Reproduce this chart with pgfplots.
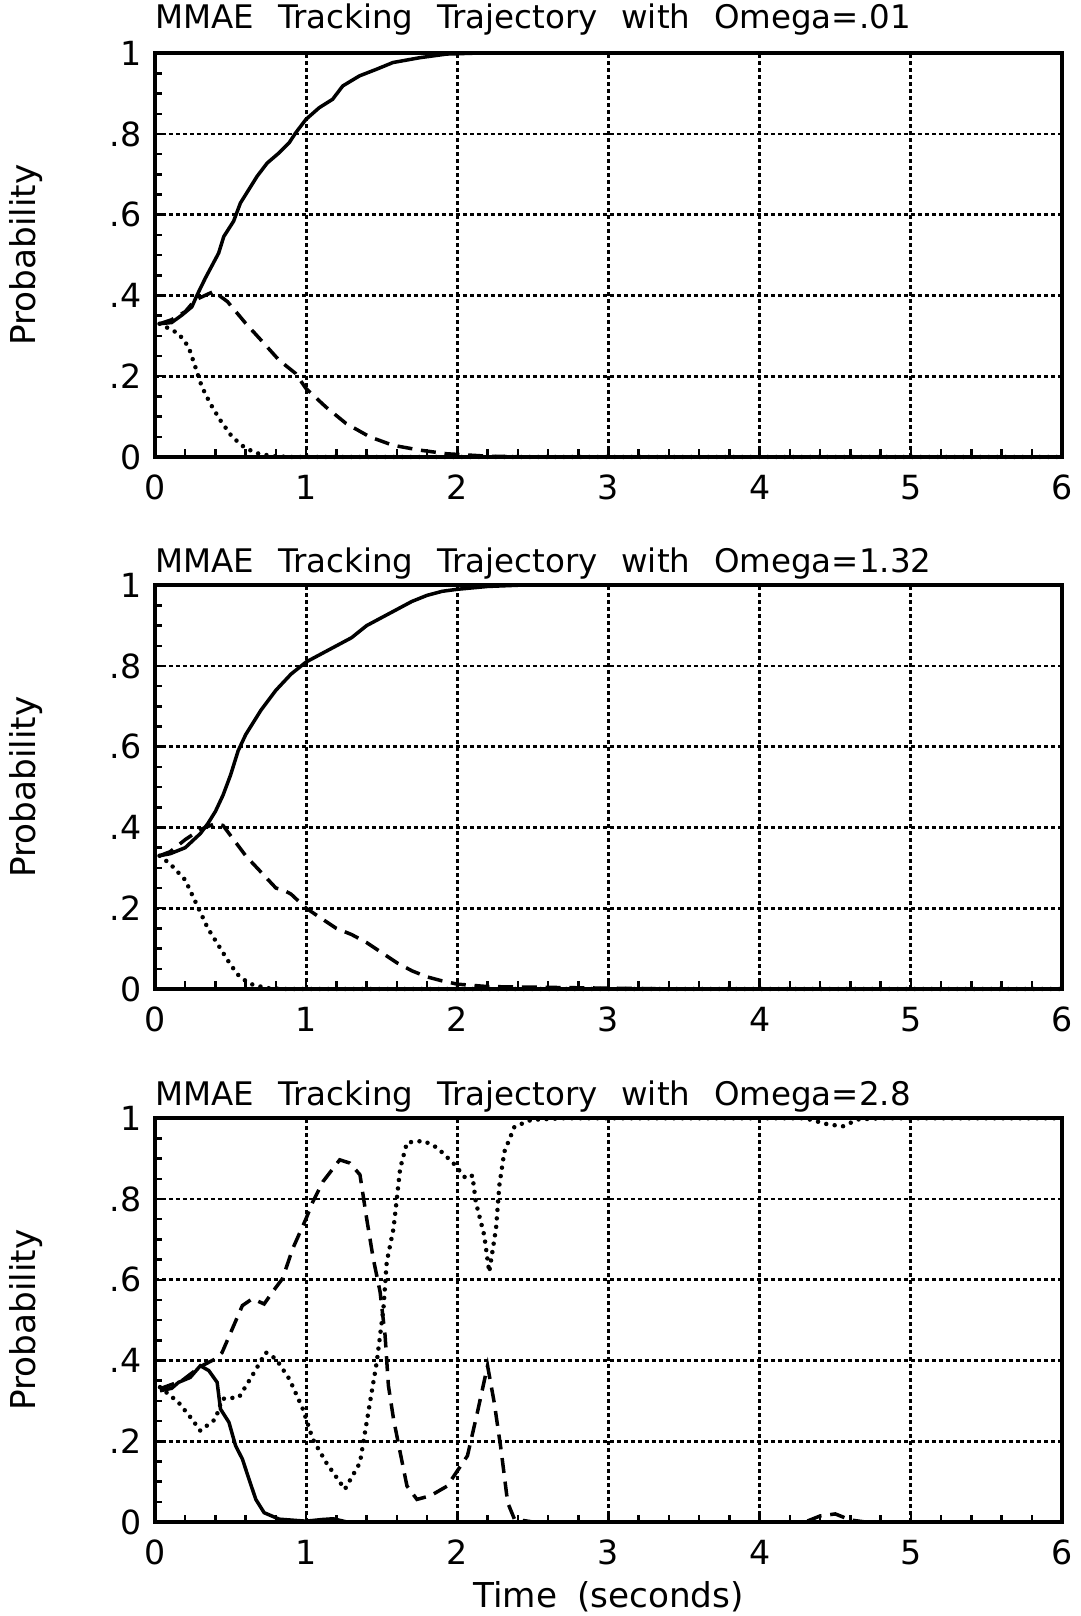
\documentclass[border=0pt]{standalone}
\usepackage{fontspec}
\setmainfont{DejaVu Sans}
\usepackage{pgfplots}
\pgfplotsset{compat=1.18}
\pgfplotsset{
  mmae/.style={
    scale only axis, width=362.8pt, height=161.5pt,
    xmin=0, xmax=6, ymin=0, ymax=1,
    xtick={0,1,2,3,4,5,6}, xticklabels={0,1,2,3,4,5,6},
    ytick={0,0.2,0.4,0.6,0.8,1}, yticklabels={0,.2,.4,.6,.8,1},
    minor x tick num=4, minor y tick num=3,
    tick pos=left, tick align=inside,
    major tick length=3pt, minor tick length=3pt,
    every tick/.style={black, line width=1pt},
    xmajorgrids, ymajorgrids,
    grid style={black, line width=1.1pt, dash pattern=on 1.6pt off 1.2pt},
    axis line style={line width=1.5pt},
    /pgf/number format/assume math mode=true,
    tick label style={font=\fontsize{13.3}{15}\selectfont},
    xticklabel style={yshift=-3.7pt},
    yticklabel style={xshift=-2pt},
    ylabel={Probability},
    ylabel style={at={(axis description cs:-0.142,0.5)}, anchor=center, font=\fontsize{13.7}{16}\selectfont},
    title style={at={(axis description cs:0,1)}, anchor=base west, inner sep=0pt, font=\fontsize{13}{15}\selectfont},
    clip=false,
  },
  solidc/.style={black, line width=1.4pt},
  dashc/.style={black, line width=1.4pt, dash pattern=on 6pt off 3.5pt},
  dotc/.style={black, line width=1.8pt, line cap=round, dash pattern=on 0pt off 3.4pt},
}
\newcommand{\gap}{\hspace{9.5pt}}
\begin{document}
\begin{tikzpicture}
\path[use as bounding box] (0,0) rectangle (432pt,646.4pt);
% ---------- top ----------
\begin{axis}[mmae, at={(62pt,463.6pt)}, anchor=south west,
  title style={yshift=4pt},
  title={MMAE\gap Tracking\gap Trajectory\gap with\gap Omega=.01}]
\addplot[solidc] coordinates {
(0.03,0.33)(0.11,0.333)(0.18,0.352)(0.244,0.372)(0.277,0.40)(0.333,0.443)(0.421,0.505)
(0.455,0.546)(0.52,0.584)(0.565,0.629)(0.62,0.662)(0.675,0.695)(0.742,0.728)(0.82,0.753)
(0.887,0.778)(0.931,0.803)(0.998,0.836)(1.086,0.865)(1.175,0.886)(1.242,0.919)(1.353,0.944)
(1.463,0.960)(1.574,0.977)(1.752,0.989)(1.93,0.998)(2.1,1.0)(6,1.0)};
\addplot[dashc] coordinates {
(0.03,0.33)(0.11,0.34)(0.2,0.36)(0.266,0.389)(0.388,0.41)(0.479,0.385)(0.6,0.331)(0.71,0.286)
(0.82,0.24)(0.93,0.207)(0.998,0.17)(1.13,0.124)(1.264,0.083)(1.42,0.05)(1.574,0.029)
(1.752,0.017)(1.93,0.008)(2.2,0.002)(2.5,0)(6,0)};
\addplot[dotc] coordinates {
(0.03,0.33)(0.155,0.306)(0.222,0.273)(0.266,0.224)(0.31,0.174)(0.366,0.132)(0.432,0.091)
(0.51,0.05)(0.588,0.025)(0.665,0.01)(0.776,0.002)(0.9,0)(6,0)};
\end{axis}
% ---------- middle ----------
\begin{axis}[mmae, at={(62pt,250.8pt)}, anchor=south west,
  title style={yshift=-0.8pt},
  title={MMAE\gap Tracking\gap Trajectory\gap with\gap Omega=1.32}]
\addplot[solidc] coordinates {
(0.03,0.33)(0.1,0.335)(0.2,0.35)(0.3,0.385)(0.35,0.41)(0.4,0.44)(0.45,0.48)(0.5,0.53)
(0.55,0.59)(0.6,0.63)(0.7,0.69)(0.8,0.74)(0.9,0.78)(1.0,0.81)(1.1,0.83)(1.2,0.85)(1.3,0.87)
(1.4,0.9)(1.5,0.92)(1.6,0.94)(1.7,0.96)(1.8,0.975)(1.9,0.985)(2.0,0.99)(2.2,0.997)(2.4,1)(6,1)};
\addplot[dashc] coordinates {
(0.03,0.33)(0.1,0.34)(0.2,0.37)(0.3,0.395)(0.4,0.41)(0.45,0.405)(0.5,0.38)(0.6,0.33)(0.7,0.29)
(0.8,0.25)(0.85,0.245)(0.9,0.235)(1.0,0.2)(1.1,0.175)(1.2,0.15)(1.3,0.135)(1.4,0.115)(1.5,0.09)
(1.6,0.065)(1.7,0.045)(1.8,0.03)(1.9,0.02)(2.0,0.012)(2.2,0.006)(2.6,0.004)(3,0.002)(3.5,0)(6,0)};
\addplot[dotc] coordinates {
(0.03,0.33)(0.1,0.31)(0.2,0.27)(0.25,0.23)(0.3,0.19)(0.35,0.15)(0.4,0.12)(0.45,0.09)(0.5,0.06)
(0.55,0.035)(0.6,0.02)(0.65,0.01)(0.75,0.002)(0.85,0)(6,0)};
\end{axis}
% ---------- bottom ----------
\begin{axis}[mmae, at={(62pt,37.6pt)}, anchor=south west,
  title style={yshift=-0.8pt},
  title={MMAE\gap Tracking\gap Trajectory\gap with\gap Omega=2.8},
  xlabel={Time\hspace{8pt}(seconds)},
  xlabel style={at={(axis description cs:0.5,0)}, anchor=center, yshift=-30pt, font=\fontsize{13.7}{16}\selectfont}]
\addplot[solidc] coordinates {
(0.033,0.325)(0.11,0.331)(0.156,0.346)(0.233,0.358)(0.3,0.387)(0.356,0.375)(0.411,0.346)
(0.433,0.28)(0.489,0.247)(0.533,0.189)(0.578,0.156)(0.622,0.106)(0.667,0.056)(0.722,0.023)
(0.822,0.007)(1.0,0.002)(1.1,0.006)(1.178,0.008)(1.27,0.0)(6,0)};
\addplot[dashc] coordinates {
(0.033,0.33)(0.178,0.35)(0.3,0.385)(0.4,0.404)(0.444,0.42)(0.511,0.478)(0.578,0.536)(0.644,0.553)
(0.722,0.54)(0.778,0.57)(0.844,0.603)(0.911,0.677)(1.0,0.752)(1.044,0.793)(1.111,0.843)
(1.222,0.897)(1.289,0.889)(1.356,0.86)(1.4,0.752)(1.444,0.652)(1.489,0.57)(1.522,0.462)
(1.544,0.338)(1.578,0.255)(1.622,0.172)(1.667,0.089)(1.733,0.056)(1.822,0.065)(1.933,0.089)
(2.022,0.139)(2.067,0.164)(2.133,0.272)(2.2,0.387)(2.244,0.296)(2.289,0.18)(2.333,0.048)
(2.378,0.007)(2.5,0)(4.3,0)(4.4,0.015)(4.5,0.02)(4.6,0.005)(4.7,0)(6,0)};
\addplot[dotc] coordinates {
(0.033,0.334)(0.156,0.296)(0.244,0.255)(0.3,0.226)(0.4,0.255)(0.444,0.305)(0.556,0.309)
(0.644,0.363)(0.733,0.42)(0.8,0.404)(0.889,0.354)(0.978,0.28)(1.044,0.205)(1.133,0.147)
(1.256,0.081)(1.356,0.147)(1.422,0.296)(1.467,0.396)(1.511,0.528)(1.533,0.644)(1.578,0.727)
(1.622,0.876)(1.667,0.94)(1.778,0.944)(1.867,0.927)(1.978,0.887)(2.056,0.851)(2.1,0.858)
(2.122,0.793)(2.178,0.71)(2.211,0.619)(2.256,0.727)(2.278,0.834)(2.311,0.917)(2.378,0.979)
(2.489,0.996)(2.7,1.0)(4.3,1.0)(4.45,0.985)(4.55,0.98)(4.65,0.997)(4.8,1.0)(6,1.0)};
\end{axis}
\end{tikzpicture}
\end{document}
